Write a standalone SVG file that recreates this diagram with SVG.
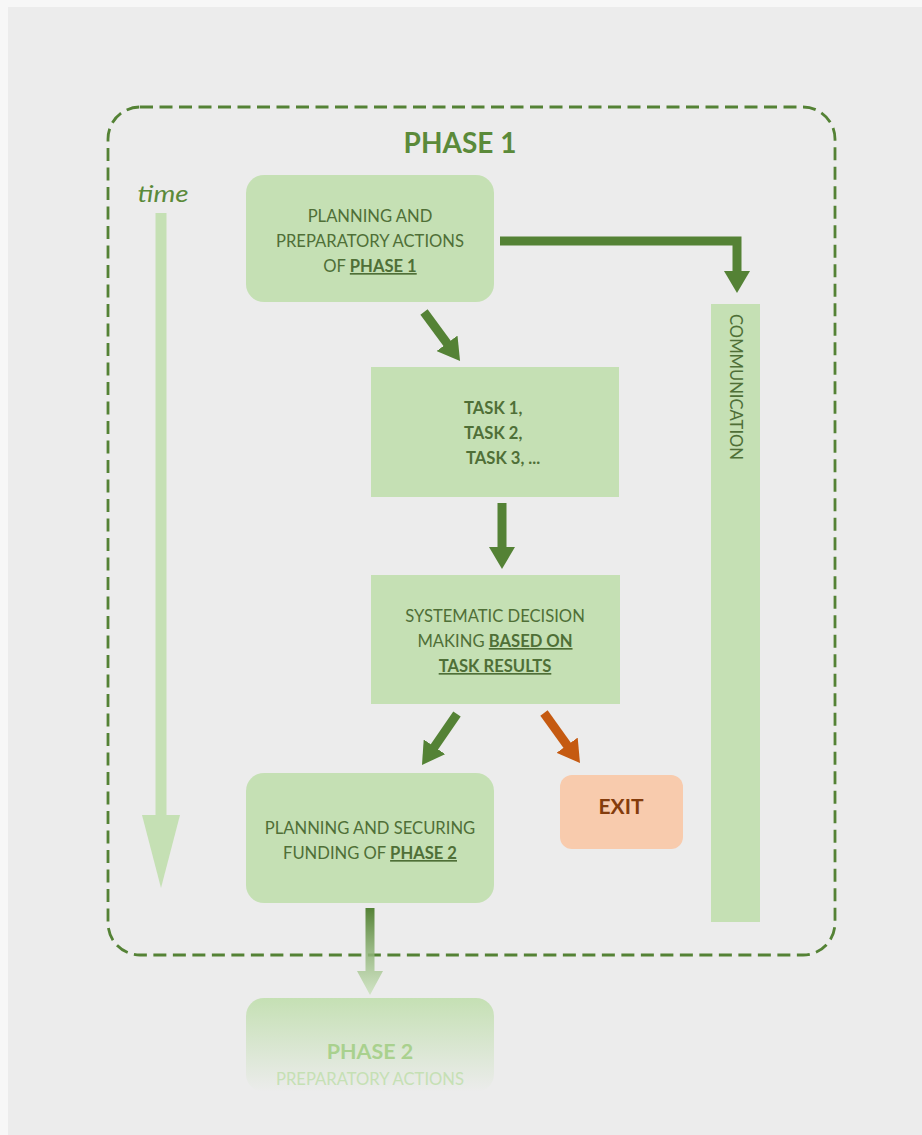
<svg xmlns="http://www.w3.org/2000/svg" width="922" height="1135" viewBox="0 0 922 1135">
<defs>
<style>
.t{font-family:Lato,"Open Sans",sans-serif;font-size:16.6px;fill:#4f6f37;text-anchor:middle}
.b{font-weight:bold}
.u{font-weight:bold;text-decoration:underline}
.box{fill:#c5e0b4}
.conn{stroke:#548235;stroke-width:9;fill:none}
</style>
<marker id="ah" viewBox="0 0 22 26" refX="2" refY="13" markerWidth="22" markerHeight="26" markerUnits="userSpaceOnUse" orient="auto"><path d="M0,0 L22,13 L0,26 Z" fill="#548235"/></marker>
<marker id="ahO" viewBox="0 0 22 26" refX="2" refY="13" markerWidth="22" markerHeight="26" markerUnits="userSpaceOnUse" orient="auto"><path d="M0,0 L22,13 L0,26 Z" fill="#c55a11"/></marker>
<linearGradient id="gArrow" gradientUnits="userSpaceOnUse" x1="0" y1="908" x2="0" y2="995">
<stop offset="0" stop-color="#548235"/><stop offset="1" stop-color="#c5e0b4" stop-opacity="0.7"/></linearGradient>
<linearGradient id="gBox" gradientUnits="userSpaceOnUse" x1="0" y1="998" x2="0" y2="1092">
<stop offset="0" stop-color="#c5e0b4"/><stop offset="1" stop-color="#c5e0b4" stop-opacity="0"/></linearGradient>
</defs>
<rect width="922" height="1135" fill="#f7f7f7"/>
<rect x="8" y="7" width="914" height="1128" fill="#ececec"/>

<g id="phase1-frame">
<rect x="108" y="107" width="727" height="848" rx="32" fill="none" stroke="#548235" stroke-width="2.8" stroke-dasharray="13 6.5"/>
<text x="460" y="153" class="t b" style="font-size:28px;fill:#5b8a3a">PHASE 1</text>
</g>

<g id="time">
<text x="163" y="202" class="t" style="font-style:italic;font-size:24px;fill:#5b8a3a" textLength="51" lengthAdjust="spacingAndGlyphs">time</text>
<rect x="155.5" y="213" width="11" height="603" fill="#c5e0b4"/>
<polygon points="142,815 180,815 161,888" fill="#c5e0b4"/>
</g>

<g id="planning1">
<rect x="246" y="175" width="248" height="127" rx="18" class="box"/>
<text class="t" x="370" y="222">PLANNING AND</text>
<text class="t" x="370" y="247">PREPARATORY ACTIONS</text>
<text class="t" x="370" y="272">OF <tspan class="u">PHASE 1</tspan></text>
</g>

<g id="communication">
<rect x="711" y="304" width="49" height="618" class="box"/>
<text class="t" style="text-anchor:start" transform="translate(729.5,314) rotate(90)">COMMUNICATION</text>
</g>

<g id="tasks">
<rect x="371" y="367" width="248" height="130" class="box"/>
<text class="t b" style="text-anchor:start" x="464" y="414">TASK 1,</text>
<text class="t b" style="text-anchor:start" x="464" y="439">TASK 2,</text>
<text class="t b" style="text-anchor:start" x="466" y="464">TASK 3, ...</text>
</g>

<g id="decision">
<rect x="371" y="575" width="249" height="129" class="box"/>
<text class="t" x="495" y="622">SYSTEMATIC DECISION</text>
<text class="t" x="495" y="647">MAKING <tspan class="u">BASED ON</tspan></text>
<text class="t u" x="495" y="672">TASK RESULTS</text>
</g>

<g id="planning2">
<rect x="246" y="773" width="248" height="130" rx="18" class="box"/>
<text class="t" x="370" y="834">PLANNING AND SECURING</text>
<text class="t" x="370" y="859">FUNDING OF <tspan class="u">PHASE 2</tspan></text>
</g>

<g id="exit">
<rect x="560" y="775" width="123" height="74" rx="12" fill="#f8cbad"/>
<text class="t b" x="621" y="814" style="font-size:21px;fill:#843c0c">EXIT</text>
</g>

<g id="phase2">
<rect x="246" y="998" width="248" height="94" rx="18" fill="url(#gBox)"/>
<text class="t b" x="370" y="1059" style="font-size:21.5px;fill:#a9d18e">PHASE 2</text>
<text class="t" x="370" y="1085" style="fill:#c5e0b4">PREPARATORY ACTIONS</text>
</g>

<g id="connectors">
<path class="conn" d="M500,241 H737 V273" marker-end="url(#ah)"/>
<line class="conn" x1="424" y1="312" x2="448.2" y2="344.9" marker-end="url(#ah)"/>
<line class="conn" x1="502" y1="503" x2="502" y2="549" marker-end="url(#ah)"/>
<line class="conn" x1="457" y1="714" x2="433.3" y2="748.5" marker-end="url(#ah)"/>
<line class="conn" x1="544" y1="713" x2="568.3" y2="746.8" style="stroke:#c55a11" marker-end="url(#ahO)"/>
<polygon points="365.5,908 374.5,908 374.5,971 383,971 370,995 357,971 365.5,971" fill="url(#gArrow)"/>
</g>
</svg>
